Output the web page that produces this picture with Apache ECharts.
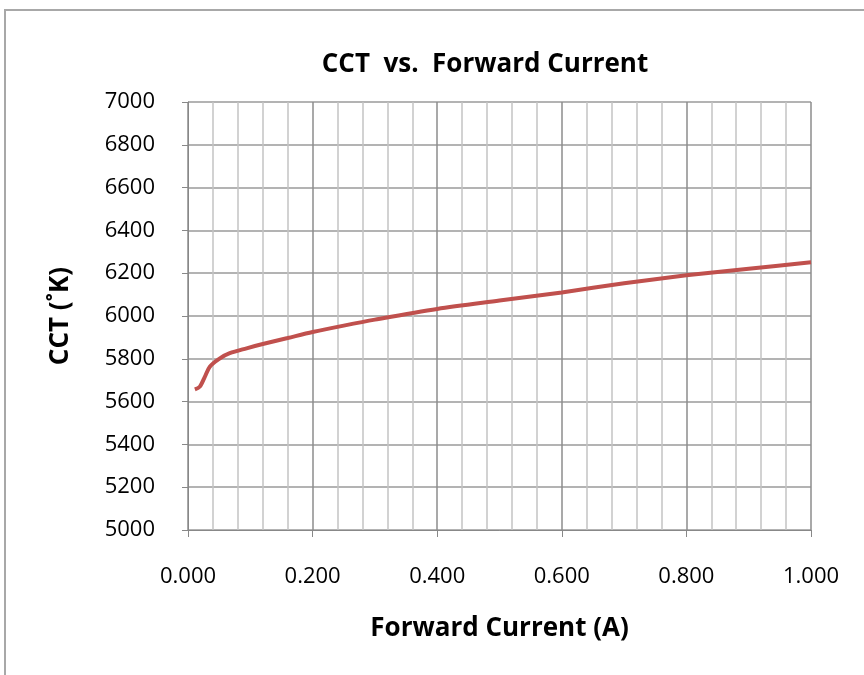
<!DOCTYPE html>
<html>
<head>
<meta charset="utf-8">
<script src="https://cdn.jsdelivr.net/npm/echarts@6/dist/echarts.min.js"></script>
<style>
    html, body { margin: 0; padding: 0; background: #fff; }
    #chart { width: 864px; height: 675px; }
</style>
</head>
<body>
<div id="chart"></div>
<script>
// forward current (A)
const current = [0.011, 0.019, 0.027, 0.035, 0.050, 0.067, 0.094, 0.120, 0.160, 0.200,
    0.250, 0.300, 0.400, 0.500, 0.600, 0.700, 0.800, 0.900, 1.000]
// CCT (K)
const cct = [5657, 5670, 5716, 5763, 5800, 5826, 5849, 5869, 5897, 5925,
    5955, 5983, 6033, 6072, 6110, 6153, 6190, 6221, 6251]

const font = '"Open Sans", "Liberation Sans", sans-serif'

const chart = echarts.init(document.getElementById('chart'))
chart.setOption({
    animation: false,
    backgroundColor: '#fff',
    title: {
        text: 'CCT  vs.  Forward Current',
        left: 480,
        textAlign: 'center',
        top: 47,
        textStyle: { fontFamily: font, fontSize: 26, fontWeight: 'bold', color: '#000' }
    },
    graphic: [{
        type: 'rect',
        shape: { x: 5, y: 10, width: 900, height: 700 },
        style: { fill: null, stroke: '#a8a8a8', lineWidth: 2 }
    }],
    grid: { left: 188, right: 53, top: 102, bottom: 145 },
    xAxis: {
        type: 'value',
        min: 0,
        max: 1,
        interval: 0.2,
        name: 'Forward Current (A)',
        nameLocation: 'middle',
        nameGap: 86,
        nameTextStyle: { fontFamily: font, fontSize: 26, fontWeight: 'bold', color: '#000' },
        axisLine: { lineStyle: { color: '#888', width: 1 } },
        axisTick: { show: true, length: 7, lineStyle: { color: '#888' } },
        axisLabel: {
            margin: 36,
            fontFamily: font, fontSize: 22, color: '#000',
            formatter: v => v.toFixed(3)
        },
        splitLine: { show: true, lineStyle: { color: '#8c8c8c', width: 1.5 } },
        minorTick: { show: false, splitNumber: 5 },
        minorSplitLine: { show: true, lineStyle: { color: '#c4c4c4', width: 1.5 } }
    },
    yAxis: {
        type: 'value',
        min: 5000,
        max: 7000,
        interval: 200,
        name: 'CCT (˚K)',
        nameLocation: 'middle',
        nameGap: 114,
        nameRotate: 90,
        nameTextStyle: { fontFamily: font, fontSize: 26, fontWeight: 'bold', color: '#000' },
        axisLine: { show: true, lineStyle: { color: '#888', width: 1 } },
        axisTick: { show: true, length: 6, lineStyle: { color: '#888' } },
        axisLabel: {
            margin: 33,
            fontFamily: font, fontSize: 22, color: '#000',
            formatter: v => String(v)
        },
        splitLine: { show: true, lineStyle: { color: '#9a9a9a', width: 1.5 } }
    },
    series: [{
        type: 'line',
        data: current.map((x, i) => [x, cct[i]]),
        smooth: 0.3,
        showSymbol: false,
        lineStyle: { color: '#c0504d', width: 4 },
        itemStyle: { color: '#c0504d' }
    }]
})
</script>
</body>
</html>
